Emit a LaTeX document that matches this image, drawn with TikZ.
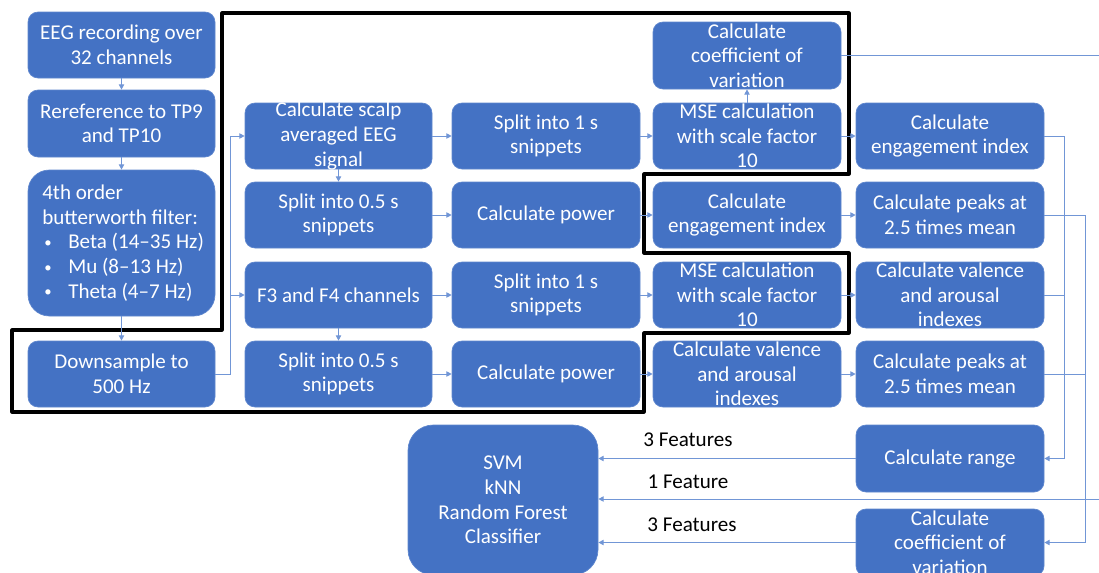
\documentclass[tikz,border=0pt]{standalone}
\usepackage{fontspec}
\setmainfont{Carlito}
\usetikzlibrary{arrows.meta,calc}
\definecolor{boxblue}{HTML}{4472C4}
\definecolor{boxedge}{HTML}{5F87CE}
\definecolor{linkblue}{HTML}{7196D6}
\tikzset{
  box/.style={draw=boxedge, fill=boxblue, line width=0.5pt, rounded corners=7.5pt, inner sep=0pt},
  txt/.style={text=white, align=center, font=\fontsize{15.8pt}{18.5pt}\selectfont, inner sep=0pt},
  lbl/.style={text=black, font=\fontsize{15.8pt}{18pt}\selectfont, inner sep=0pt},
  link/.style={draw=linkblue, line width=0.75pt},
  arr/.style={link, -{Triangle[length=4pt,width=4pt]}},
  frame/.style={draw=black, line width=2.3pt, line join=round}
}
\newcommand\mybox[7][]{%
  \node[box,#1,minimum width={(#5-#3)*0.75pt},minimum height={(#6-#4)*0.75pt}] (#2) at ({(#3+#5)/2},{(#4+#6)/2}) {};
  \node[txt] (#2-t) at (#2.center) {#7};}
\newcommand\bul{\makebox[19.5pt][l]{\hspace{1.5pt}\raisebox{0.15ex}{\scalebox{0.7}{\textbullet}}}}
\begin{document}
\begin{tikzpicture}[x=0.75pt,y=-0.75pt]
\useasboundingbox (0,0) rectangle (1099,572);
\clip (0,0) rectangle (1099,572);
\fill[white] (0,0) rectangle (1099,572);
% column 1
\mybox{eeg}{28}{12}{215}{78}{EEG recording over\\32 channels}
\mybox{reref}{28}{90}{215}{157}{Rereference to TP9\\and TP10}
\node[box,rounded corners=16pt,minimum width={187*0.75pt},minimum height={146*0.75pt}] (filt) at (121.5,243) {};
\node[txt,align=left,anchor=west] (filt-t) at (42,243) {4th order\\butterworth filter:\\\bul Beta (14–35 Hz)\\\bul Mu (8–13 Hz)\\\bul Theta (4–7 Hz)};
\mybox{down}{28}{341}{215}{407}{Downsample to\\500 Hz}
% column 2
\mybox{scalp}{245}{103}{432}{169}{Calculate scalp\\averaged EEG\\signal}
\mybox{spa}{245}{182}{432}{248}{Split into 0.5 s\\snippets}
\mybox{f34}{245}{262}{432}{328}{F3 and F4 channels}
\mybox{spb}{245}{341}{432}{407}{Split into 0.5 s\\snippets}
% column 3
\mybox{sia}{452}{103}{640}{169}{Split into 1 s\\snippets}
\mybox{pwa}{452}{182}{640}{248}{Calculate power}
\mybox{sib}{452}{262}{640}{328}{Split into 1 s\\snippets}
\mybox{pwb}{452}{341}{640}{407}{Calculate power}
% column 4
\mybox{cova}{653}{22}{841}{89}{Calculate\\coefficient of\\variation}
\mybox{msea}{653}{103}{841}{169}{MSE calculation\\with scale factor\\10}
\mybox{enga}{653}{182}{841}{248}{Calculate\\engagement index}
\mybox{mseb}{653}{262}{841}{328}{MSE calculation\\with scale factor\\10}
\mybox{vala}{653}{341}{841}{407}{Calculate valence\\and arousal\\indexes}
% column 5
\mybox{engb}{856}{103}{1044}{169}{Calculate\\engagement index}
\mybox{pka}{856}{182}{1044}{248}{Calculate peaks at\\2.5 times mean}
\mybox{valb}{856}{262}{1044}{328}{Calculate valence\\and arousal\\indexes}
\mybox{pkb}{856}{341}{1044}{407}{Calculate peaks at\\2.5 times mean}
\mybox{range}{856}{425}{1044}{492}{Calculate range}
\mybox{covb}{856}{509}{1044}{576}{Calculate\\coefficient of\\variation}
% classifier
\mybox[rounded corners=19pt]{svm}{408}{425}{598}{575}{SVM\\kNN\\Random Forest\\Classifier}
% black frame
\draw[frame] (222,13) -- (849,13) -- (849,174) -- (644,174) -- (644,253) -- (849,253) -- (849,333) -- (644,333) -- (644,412) -- (12,412) -- (12,330) -- (222,330) -- cycle;
% connectors
\draw[arr] (eeg.south) -- (reref.north);
\draw[arr] (reref.south) -- (filt.north);
\draw[arr] (filt.south) -- (down.north);
\coordinate (bus) at (230,374);
\draw[arr] (down.east) -- (bus) |- (scalp.west);
\draw[arr] (bus) |- (f34.west);
\draw[arr] (scalp.south) -- (spa.north);
\draw[arr] (f34.south) -- (spb.north);
\draw[arr] (scalp.east) -- (sia.west);
\draw[arr] (spa.east) -- (pwa.west);
\draw[arr] (f34.east) -- (sib.west);
\draw[arr] (spb.east) -- (pwb.west);
\draw[arr] (sia.east) -- (msea.west);
\draw[arr] (pwa.east) -- (enga.west);
\draw[arr] (sib.east) -- (mseb.west);
\draw[arr] (pwb.east) -- (vala.west);
\draw[arr] (msea.north) -- (cova.south);
\draw[arr] (msea.east) -- (engb.west);
\draw[arr] (enga.east) -- (pka.west);
\draw[arr] (mseb.east) -- (valb.west);
\draw[arr] (vala.east) -- (pkb.west);
\draw[arr] (engb.east) -- ++(20,0) |- (range.east);
\draw[link] (valb.east) -- ++(20,0);
\draw[arr] (pka.east) -- ++(41,0) |- (covb.east);
\draw[link] (pkb.east) -- ++(41,0);
\coordinate (off) at (1115,499);
\draw[arr] (cova.east) -- (cova.east -| off) -- (off) -- (svm.east |- off);
\draw[arr] (range.west) -- (svm.east |- range.west);
\draw[arr] (covb.west) -- (svm.east |- covb.west);
% labels
\node[lbl] (l1) at (688,440) {3 Features};
\node[lbl] (l2) at (688,482) {1 Feature};
\node[lbl] (l3) at (692,525) {3 Features};
\end{tikzpicture}
\end{document}
